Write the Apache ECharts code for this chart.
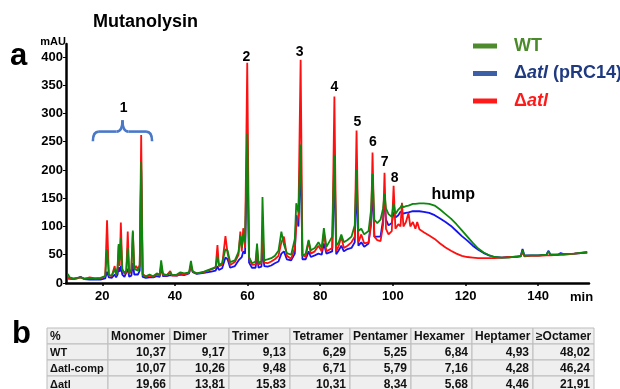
<!DOCTYPE html>
<html>
<head>
<meta charset="utf-8">
<script src="https://cdn.jsdelivr.net/npm/echarts@6/dist/echarts.min.js"></script>
<style>
  html, body { margin: 0; padding: 0; background: #fff; }
  #chart { width: 620px; height: 389px; }
</style>
</head>
<body>
<div id="chart"></div>
<script>
// retention time (min)
const times = [10.5, 11, 12, 13, 14, 15, 16.5, 18, 19.5, 20.8,
  21.3, 21.8, 22.6, 23.1, 23.4, 23.8, 24.2, 24.5, 24.8, 25.1,
  25.5, 26.1, 26.6, 27, 27.4, 28, 28.4, 28.8, 29.3, 29.8,
  30.3, 30.7, 31.1, 32, 33, 34, 35, 35.8, 36.2, 36.7,
  37.7, 38.7, 39.2, 40.5, 41.5, 42.5, 43.9, 44.4, 44.9, 46,
  48, 50, 51.2, 51.7, 52.1, 53, 53.9, 54.5, 55.2, 56.5,
  57.5, 58, 58.4, 58.8, 59.3, 59.9, 60.4, 61.2, 62.2, 62.6,
  63, 63.8, 64.1, 64.6, 65.5, 66.5, 67.5, 68.5, 69.3, 70,
  70.8, 72, 73, 73.4, 74, 74.6, 75.1, 76, 76.8, 77.4,
  78.5, 79.5, 80.4, 81, 81.7, 83.3, 83.9, 84.4, 85.1, 85.8,
  86.5, 87.5, 88.6, 89.5, 90, 90.5, 91.3, 92.1, 93.3, 94,
  94.4, 94.9, 95.7, 96.6, 97.3, 97.7, 98.1, 98.8, 99.7, 100.2,
  100.7, 101.5, 102.1, 102.5, 102.9, 103.6, 104.3, 104.8, 105.5, 106.2,
  106.7, 107.3, 108.5, 110, 111.5, 113, 114.5, 116, 117.5, 119,
  120.5, 122, 123.5, 125, 126.5, 128, 130, 132, 133.8, 135.2,
  135.7, 136.2, 138, 140, 142.3, 142.8, 143.4, 145.5, 146.2, 147,
  150, 153.5];

// mAU, Δatl
const atlValues = [9, 8, 7, 8, 10, 7, 10, 8, 8, 12,
  111, 14, 12, 15, 30, 13, 22, 66, 30, 107,
  24, 16, 20, 91, 16, 22, 90, 25, 30, 24,
  32, 262, 16, 11, 13, 11, 15, 13, 32, 14,
  13, 21, 13, 13, 17, 15, 18, 32, 20, 17,
  19, 24, 27, 67, 30, 32, 83, 52, 32, 37,
  50, 91, 56, 97, 62, 390, 45, 32, 33, 62,
  33, 35, 90, 36, 35, 38, 42, 48, 72, 82,
  48, 43, 62, 100, 120, 395, 50, 46, 74, 52,
  56, 66, 56, 88, 56, 62, 330, 56, 66, 82,
  62, 66, 72, 82, 270, 72, 86, 70, 72, 102,
  231, 82, 76, 74, 102, 195, 96, 86, 92, 172,
  96, 104, 100, 142, 100, 108, 124, 100, 108, 96,
  108, 95, 90, 84, 78, 70, 63, 57, 52, 48,
  46, 45, 44, 44, 44, 44, 45, 46, 46, 47,
  55, 47, 48, 48, 49, 52, 49, 50, 50, 50,
  52, 54];

// mAU, Δatl (pRC14)
const compValues = [8, 6, 7, 8, 11, 7, 6, 6, 6, 8,
  20, 10, 9, 11, 15, 10, 15, 28, 20, 30,
  15, 11, 12, 25, 11, 13, 35, 15, 16, 15,
  22, 200, 11, 9, 10, 10, 12, 11, 28, 12,
  12, 14, 12, 13, 15, 14, 17, 30, 19, 16,
  18, 20, 22, 30, 23, 26, 45, 42, 27, 30,
  40, 42, 46, 56, 52, 230, 36, 27, 27, 50,
  27, 29, 60, 30, 29, 31, 35, 38, 52, 56,
  42, 40, 52, 120, 100, 220, 42, 42, 56, 46,
  49, 52, 50, 70, 52, 56, 200, 51, 58, 66,
  56, 60, 62, 72, 180, 66, 72, 64, 70, 110,
  170, 82, 82, 82, 112, 150, 112, 102, 106, 125,
  116, 120, 126, 128, 123, 124, 125, 126, 127, 127,
  127, 127, 126, 124, 120, 114, 108, 101, 92, 83,
  75, 66, 59, 53, 49, 46, 45, 46, 46, 48,
  60, 49, 49, 49, 50, 57, 50, 50, 53, 51,
  52, 54];

// mAU, WT
const wtValues = [16, 10, 8, 9, 10, 8, 8, 8, 9, 12,
  60, 14, 13, 15, 25, 15, 28, 69, 40, 79,
  24, 18, 22, 62, 18, 24, 93, 25, 27, 22,
  30, 215, 14, 12, 15, 12, 17, 15, 40, 16,
  14, 18, 14, 15, 19, 17, 19, 39, 20, 17,
  20, 25, 28, 47, 32, 35, 60, 57, 37, 40,
  55, 84, 62, 86, 72, 265, 46, 35, 38, 70,
  36, 38, 152, 40, 42, 44, 48, 57, 91, 68,
  53, 50, 78, 141, 125, 245, 48, 52, 76, 58,
  62, 72, 62, 97, 64, 82, 227, 66, 72, 86,
  72, 76, 82, 102, 200, 92, 96, 86, 92, 130,
  193, 112, 106, 112, 132, 158, 132, 122, 117, 141,
  122, 130, 134, 138, 134, 136, 137, 138, 140, 140,
  141, 141, 141, 140, 137, 130, 122, 114, 104, 93,
  82, 71, 61, 54, 49, 46, 45, 45, 47, 47,
  58, 48, 49, 49, 50, 56, 50, 50, 51, 51,
  52, 55];

const xTicks = [20, 40, 60, 80, 100, 120, 140];
const yTicks = [0, 50, 100, 150, 200, 250, 300, 350, 400];

// peak annotations
const peakNames = ['1', '2', '3', '4', '5', '6', '7', '8', 'hump'];
const peakTimes = [25.9, 59.7, 74.3, 83.9, 90.2, 94.5, 97.7, 100.5, 116.6];
const peakLevels = [309, 400, 409, 347, 285, 250, 214, 186, 156];

// brace over peak group 1: [from, to] min, [ends, bar, tip] mAU
const braceRange = [17.4, 33.7];
const braceLevels = [251, 268, 288];

// table b
const tableHeader = ['%', 'Monomer', 'Dimer', 'Trimer', 'Tetramer', 'Pentamer', 'Hexamer', 'Heptamer', '≥Octamer'];
const rowLabels = ['WT', 'Δatl-comp', 'Δatl'];
const wtShares = ['10,37', '9,17', '9,13', '6,29', '5,25', '6,84', '4,93', '48,02'];
const compShares = ['10,07', '10,26', '9,48', '6,71', '5,79', '7,16', '4,28', '46,24'];
const atlShares = ['19,66', '13,81', '15,83', '10,31', '8,34', '5,68', '4,46', '21,91'];

const FONT = 'Liberation Sans, Arial, sans-serif';
const colWidths = [61, 62, 59, 61, 60, 61, 61, 61, 61];
const tableLeft = 47, tableTop = 328, rowH = 16;

function buildTable() {
  const rows = [tableHeader,
    [rowLabels[0]].concat(wtShares),
    [rowLabels[1]].concat(compShares),
    [rowLabels[2]].concat(atlShares)];
  const els = [];
  rows.forEach((row, r) => {
    let x = tableLeft;
    const y = tableTop + r * rowH;
    row.forEach((cell, c) => {
      const w = colWidths[c];
      els.push({
        type: 'rect', shape: { x: x, y: y, width: w, height: rowH },
        style: { fill: '#efefef', stroke: '#bdbdbd', lineWidth: 1 }
      });
      const right = r > 0 && c > 0;
      const size = (r > 0 && c === 0) ? 11 : 12;
      els.push({
        type: 'text', x: right ? x + w - 4 : x + 3, y: y + rowH / 2 + 1,
        style: {
          text: cell, font: 'bold ' + size + 'px ' + FONT, fill: '#111',
          align: right ? 'right' : 'left', textAlign: right ? 'right' : 'left',
          verticalAlign: 'middle', textVerticalAlign: 'middle'
        }
      });
      x += w;
    });
  });
  return els;
}

const chart = echarts.init(document.getElementById('chart'));

const lineSeries = (name, values, color) => ({
  name: name,
  type: 'line',
  data: times.map((t, i) => [t, values[i]]),
  showSymbol: false,
  lineStyle: { color: color, width: 1.8 },
  itemStyle: { color: color },
  silent: true
});

const greenSeries = lineSeries('WT', wtValues, '#0f870f');
greenSeries.markPoint = {
  symbol: 'circle',
  symbolSize: 0,
  silent: true,
  label: { show: true, formatter: '{b}', color: '#000', fontWeight: 'bold', fontSize: 14, fontFamily: FONT },
  data: peakNames.map((n, i) => ({
    name: n,
    coord: [peakTimes[i], peakLevels[i]],
    label: n === 'hump' ? { fontSize: 16 } : {}
  }))
};

const braceSeries = {
  type: 'custom',
  silent: true,
  clip: false,
  z: 5,
  data: [[braceRange[0], braceRange[1], braceLevels[0], braceLevels[1], braceLevels[2]]],
  renderItem: function (params, api) {
    const a = api.value(0), b = api.value(1);
    const p1 = api.coord([a, api.value(2)]);
    const p2 = api.coord([b, api.value(2)]);
    const yb = api.coord([a, api.value(3)])[1];
    const tip = api.coord([(a + b) / 2, api.value(4)]);
    const r = 6;
    const st = { stroke: '#4a78c8', lineWidth: 2.6, fill: 'none' };
    return {
      type: 'group',
      children: [
        { type: 'bezierCurve', shape: { x1: p1[0], y1: p1[1], cpx1: p1[0], cpy1: yb, x2: p1[0] + r, y2: yb }, style: st },
        { type: 'line', shape: { x1: p1[0] + r, y1: yb, x2: tip[0] - r, y2: yb }, style: st },
        { type: 'bezierCurve', shape: { x1: tip[0] - r, y1: yb, cpx1: tip[0], cpy1: yb, x2: tip[0], y2: tip[1] }, style: st },
        { type: 'bezierCurve', shape: { x1: tip[0], y1: tip[1], cpx1: tip[0], cpy1: yb, x2: tip[0] + r, y2: yb }, style: st },
        { type: 'line', shape: { x1: tip[0] + r, y1: yb, x2: p2[0] - r, y2: yb }, style: st },
        { type: 'bezierCurve', shape: { x1: p2[0] - r, y1: yb, cpx1: p2[0], cpy1: yb, x2: p2[0], y2: p2[1] }, style: st }
      ]
    };
  }
};

const axisFont = { color: '#000', fontWeight: 'bold', fontSize: 13, fontFamily: FONT };

chart.setOption({
  animation: false,
  backgroundColor: '#fff',
  title: {
    text: 'Mutanolysin', left: 93, top: 13, padding: 0,
    textStyle: { color: '#000', fontSize: 18, fontWeight: 'bold', fontFamily: FONT }
  },
  legend: {
    orient: 'vertical',
    left: 468,
    top: 32,
    icon: 'rect',
    itemWidth: 24,
    itemHeight: 5,
    itemGap: 9.5,
    selectedMode: false,
    data: [
      { name: 'WT', itemStyle: { color: '#4e8a2e' } },
      { name: 'Δatl (pRC14)', itemStyle: { color: '#3d5fa8' } },
      { name: 'Δatl', itemStyle: { color: '#ff1a1a' } }
    ],
    formatter: function (name) {
      if (name === 'WT') return '{g|WT}';
      if (name === 'Δatl') return '{r|Δ}{ri|atl}';
      return '{b|Δ}{bi|atl}{b| (pRC14)}';
    },
    textStyle: {
      fontSize: 18, fontWeight: 'bold', fontFamily: FONT,
      padding: [0, 0, 0, 12],
      rich: {
        g: { color: '#4a8a2a', fontSize: 18, fontWeight: 'bold', fontFamily: FONT },
        b: { color: '#1f3a80', fontSize: 18, fontWeight: 'bold', fontFamily: FONT },
        bi: { color: '#1f3a80', fontSize: 18, fontWeight: 'bold', fontStyle: 'italic', fontFamily: FONT },
        r: { color: '#ff1a1a', fontSize: 18, fontWeight: 'bold', fontFamily: FONT },
        ri: { color: '#ff1a1a', fontSize: 18, fontWeight: 'bold', fontStyle: 'italic', fontFamily: FONT }
      }
    }
  },
  grid: { left: 66, right: 31, top: 44, bottom: 106, containLabel: false },
  xAxis: {
    type: 'value',
    min: 10,
    max: 154,
    name: 'min',
    nameLocation: 'end',
    nameGap: -19,
    nameTextStyle: { color: '#000', fontWeight: 'bold', fontSize: 13, fontFamily: FONT, verticalAlign: 'top', align: 'left', padding: [8, 0, 0, 0] },
    axisLine: { lineStyle: { color: '#000', width: 2.5 } },
    axisTick: { show: true, length: 3, customValues: xTicks, lineStyle: { color: '#000', width: 1.5 } },
    axisLabel: Object.assign({ margin: 7, customValues: xTicks }, axisFont),
    splitLine: { show: false }
  },
  yAxis: {
    type: 'value',
    min: 0,
    max: 423,
    name: 'mAU',
    nameLocation: 'end',
    nameGap: 2,
    nameTextStyle: { color: '#000', fontWeight: 'bold', fontSize: 11, fontFamily: FONT, align: 'right', verticalAlign: 'middle' },
    axisLine: { show: true, lineStyle: { color: '#000', width: 2.5 } },
    axisTick: { show: true, length: 3, customValues: yTicks, lineStyle: { color: '#000', width: 1 } },
    axisLabel: Object.assign({ margin: 3, customValues: yTicks }, axisFont),
    splitLine: { show: false }
  },
  graphic: [
    { type: 'text', x: 10, y: 41, style: { text: 'a', font: 'bold 31px ' + FONT, fill: '#000' } },
    { type: 'text', x: 12, y: 319, style: { text: 'b', font: 'bold 31px ' + FONT, fill: '#000' } }
  ].concat(buildTable()),
  series: [
    lineSeries('Δatl (pRC14)', compValues, '#1414f0'),
    lineSeries('Δatl', atlValues, '#ff1010'),
    greenSeries,
    braceSeries
  ]
});
</script>
</body>
</html>
